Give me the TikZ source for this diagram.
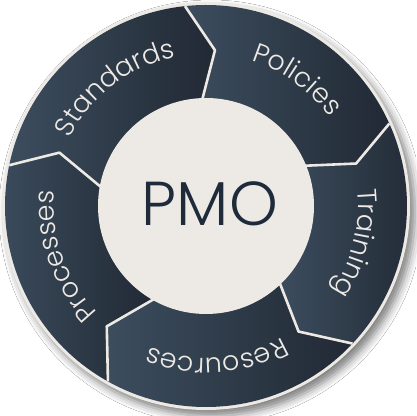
\documentclass[tikz,border=0pt]{standalone}
\usepackage{fontspec}
\setmainfont{Poppins}
\IfFontExistsTF{Poppins Light}{\newfontfamily\lightfont{Poppins Light}}{\newfontfamily\lightfont{Poppins}}
\usetikzlibrary{decorations.text,shadows.blur}
\definecolor{bg}{HTML}{EDEAE5}
\definecolor{segL}{HTML}{3C4D5E}
\definecolor{segD}{HTML}{212934}
\definecolor{pmoc}{HTML}{1F2B3A}
\newcommand\lblfont{\lightfont\fontsize{27}{30}\selectfont}
\tikzset{
  seg/.style={left color=segL,right color=segD},
  sepline/.style={draw=bg,line width=2.6pt,line join=round},
  arclabel/.style={decorate,decoration={text along path,text align=center,text color=bg,text={|\lblfont|#1}}}
}
\begin{document}
\begin{tikzpicture}[x=1pt,y=1pt]
\useasboundingbox (0,0) rectangle (416,416);
\fill[white] (0,0) rectangle (416,416);
\begin{scope}[shift={(206,210)}]
\fill[bg, blur shadow={shadow xshift=5pt,shadow yshift=-6pt,shadow blur radius=8pt,shadow opacity=50}] (0,0) circle (204);
% segments
\shade[seg] (168.3:201) arc[start angle=168.3,end angle=96,radius=201] -- (86.7:156) -- (92.1:106) arc[start angle=92.1,end angle=170,radius=106] -- (160:156) -- cycle;
\shade[seg] (96:201) arc[start angle=96,end angle=24.2,radius=201] -- (15.8:156) -- (22.3:106) arc[start angle=22.3,end angle=92.1,radius=106] -- (86.7:156) -- cycle;
\shade[seg] (24.2:201) arc[start angle=24.2,end angle=-43.2,radius=201] -- (-53.6:156) -- (-46.1:106) arc[start angle=-46.1,end angle=22.3,radius=106] -- (15.8:156) -- cycle;
\shade[seg] (-43.2:201) arc[start angle=-43.2,end angle=-119.2,radius=201] -- (-129.5:156) -- (-119:106) arc[start angle=-119,end angle=-46.1,radius=106] -- (-53.6:156) -- cycle;
\shade[seg] (-119.2:201) arc[start angle=-119.2,end angle=-191.7,radius=201] -- (-200:156) -- (-190:106) arc[start angle=-190,end angle=-119,radius=106] -- (-129.5:156) -- cycle;
% separators
\draw[sepline] (96:201) -- (86.7:156) -- (92.1:106);
\draw[sepline] (24.2:201) -- (15.8:156) -- (22.3:106);
\draw[sepline] (-43.2:201) -- (-53.6:156) -- (-46.1:106);
\draw[sepline] (-119.2:201) -- (-129.5:156) -- (-119:106);
\draw[sepline] (168.3:201) -- (160:156) -- (170:106);
% centre
\fill[bg] (0,0) circle (108);
\node[font=\lightfont\fontsize{62}{62}\selectfont,text=pmoc] (pmo) at (4,2) {PMO};
% labels
\path[arclabel=Standards] (167.5:152) arc[start angle=167.5,end angle=87.5,radius=152];
\path[arclabel=Policies] (94.2:152) arc[start angle=94.2,end angle=14.2,radius=152];
\path[arclabel=Training] (26:152) arc[start angle=26,end angle=-54,radius=152];
\path[arclabel=Resources] (-46:152) arc[start angle=-46,end angle=-126,radius=152];
\path[arclabel=Processes] (-120.6:152) arc[start angle=-120.6,end angle=-200.6,radius=152];
\end{scope}
\end{tikzpicture}
\end{document}
